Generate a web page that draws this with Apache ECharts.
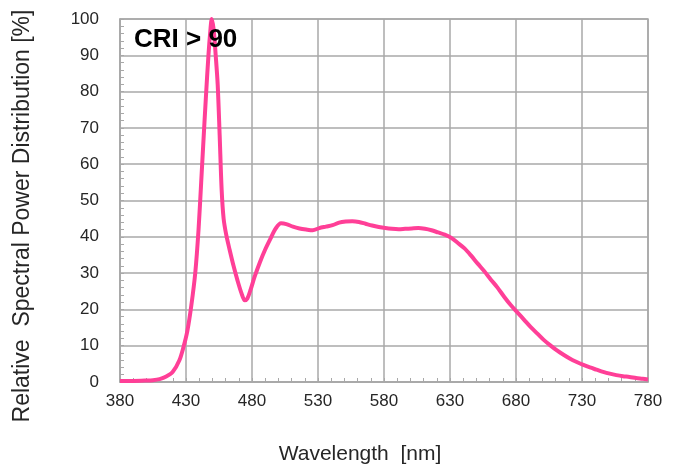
<!DOCTYPE html>
<html>
<head>
<meta charset="utf-8">
<script src="https://cdn.jsdelivr.net/npm/echarts@6/dist/echarts.min.js"></script>
<style>html,body{margin:0;padding:0;background:#fff;}#c{width:673px;height:474px;}</style>
</head>
<body>
<div id="c"></div>
<script>
const wavelengths = [380,390,400,405,410,415,420,425,428,431,434,437,439.5,441.5,443,445,447,448.5,449.5,451,452.5,454,455.5,457,458.5,460.5,463,466,469,472,474.5,476.5,479,482,486,490,494,498,502,506,511,516,521,526,531,536,541,546,551,556,561,566,571,576,581,586,591,596,601,606,611,616,621,626,631,636,641,646,651,656,661,666,671,676,681,686,691,696,701,706,711,716,721,726,731,736,741,746,751,756,761,766,771,776,780];
const spd = [0.3,0.3,0.4,0.5,0.8,1.5,2.8,6,9.5,14,21,30,42,55,65,78,90,97,100,97,90,82,68,53,45,40.5,36.5,32,28,24.5,22.5,23,25.5,29,33,36.5,39.5,42.3,43.7,43.5,42.8,42.3,42,41.8,42.4,42.8,43.2,43.9,44.2,44.3,44.1,43.6,43.1,42.7,42.4,42.2,42.1,42.2,42.3,42.4,42.2,41.8,41.2,40.6,39.7,38.3,36.8,34.8,32.6,30.5,28.2,26,23.5,21.2,19.2,17.2,15.2,13.4,11.6,10.1,8.7,7.5,6.4,5.5,4.7,4,3.4,2.8,2.3,1.9,1.6,1.4,1.1,0.9,0.7];
const xTicks = {min: 380, max: 780, step: 50};
const yTicks = {min: 0, max: 100, step: 10};
const xTitle = 'Wavelength  [nm]';
const yTitle = 'Relative  Spectral Power Distribution [%]';
const label = 'CRI > 90';

const font = '"Liberation Sans", Arial, sans-serif';
const gridColor = '#a8a8a8';
const chart = echarts.init(document.getElementById('c'));
chart.setOption({
  animation: false,
  backgroundColor: '#fff',
  grid: {left: 120, right: 25, top: 19, bottom: 92, show: true, borderColor: gridColor, borderWidth: 1.5},
  xAxis: {
    type: 'value', min: xTicks.min, max: xTicks.max, interval: xTicks.step,
    axisLine: {show: true, lineStyle: {color: gridColor, width: 1.5}},
    axisTick: {show: true, inside: true, length: 4, lineStyle: {color: gridColor, width: 1}},
    minorTick: {show: true, splitNumber: 5, length: 4, lineStyle: {color: gridColor, width: 1}},
    axisLabel: {color: '#262626', fontSize: 17, fontFamily: font, margin: 11},
    splitLine: {show: true, lineStyle: {color: gridColor, width: 1.5}}
  },
  yAxis: {
    type: 'value', min: yTicks.min, max: yTicks.max, interval: yTicks.step,
    axisLine: {show: true, lineStyle: {color: gridColor, width: 1.5}},
    axisTick: {show: true, inside: true, length: 4, lineStyle: {color: gridColor, width: 1}},
    minorTick: {show: true, splitNumber: 5, length: 4, lineStyle: {color: gridColor, width: 1}},
    axisLabel: {color: '#262626', fontSize: 17, fontFamily: font, margin: 21},
    splitLine: {show: true, lineStyle: {color: gridColor, width: 1.5}}
  },
  graphic: [
    {type: 'text', x: 360, y: 454, style: {text: xTitle, fill: '#262626', font: '21px ' + font, textAlign: 'center', textVerticalAlign: 'middle'}},
    {type: 'text', x: 23, y: 216, rotation: Math.PI / 2, style: {text: yTitle, fill: '#262626', font: '23px ' + font, textAlign: 'center', textVerticalAlign: 'middle'}},
    {type: 'text', x: 134, y: 40, z: 10, style: {text: label, fill: '#000', font: 'bold 26px ' + font, textAlign: 'left', textVerticalAlign: 'middle'}}
  ],
  series: [{
    type: 'line',
    data: wavelengths.map((w, i) => [w, spd[i]]),
    showSymbol: false,
    smooth: 0.3,
    lineStyle: {color: '#ff3f97', width: 4},
    z: 5
  }]
});
</script>
</body>
</html>
